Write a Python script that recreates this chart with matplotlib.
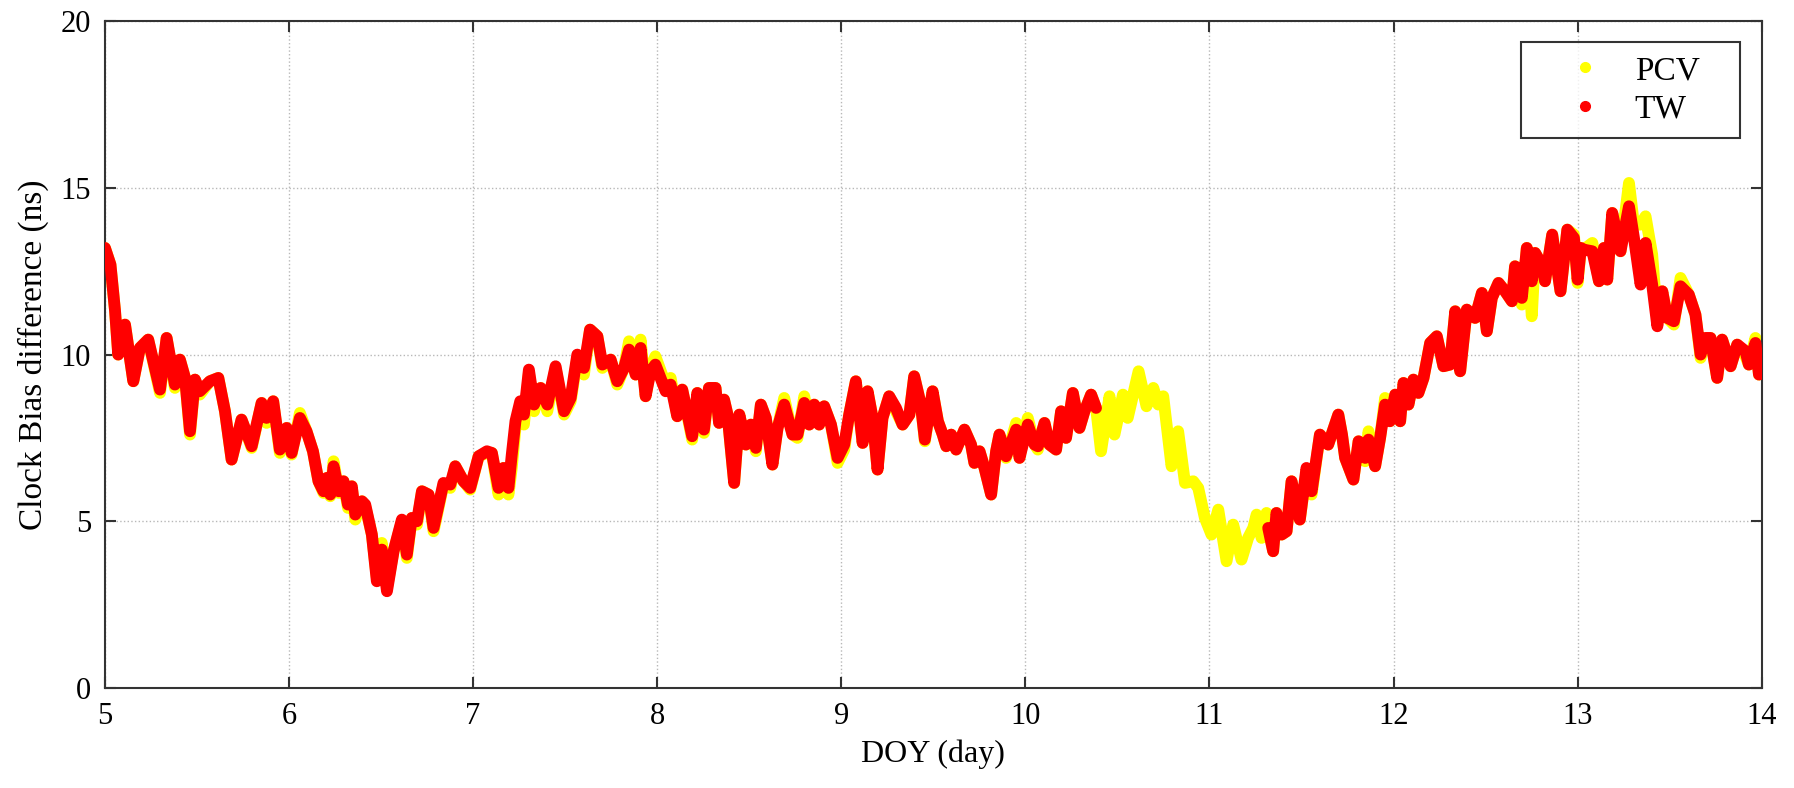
import numpy as np
import matplotlib
matplotlib.use("Agg")
import matplotlib.pyplot as plt
from matplotlib.lines import Line2D

# TW solution (red), gap between DOY 10.4 and 11.3
tw_day = [
    5.000, 5.030, 5.055, 5.072, 5.109, 5.154, 5.190, 5.235, 5.299, 5.335,
    5.380, 5.407, 5.435, 5.462, 5.489, 5.515, 5.570, 5.616, 5.652, 5.688,
    5.742, 5.797, 5.851, 5.878, 5.914, 5.950, 5.987, 6.014, 6.059, 6.095,
    6.130, 6.160, 6.187, 6.205, 6.224, 6.242, 6.270, 6.296, 6.320, 6.341,
    6.360, 6.396, 6.414, 6.450, 6.477, 6.504, 6.532, 6.568, 6.613, 6.640,
    6.667, 6.695, 6.722, 6.758, 6.785, 6.839, 6.876, 6.903, 6.948, 6.984,
    7.030, 7.075, 7.102, 7.138, 7.165, 7.192, 7.210, 7.230, 7.256, 7.276,
    7.303, 7.331, 7.367, 7.403, 7.448, 7.494, 7.530, 7.566, 7.602, 7.635,
    7.675, 7.702, 7.747, 7.783, 7.820, 7.847, 7.883, 7.910, 7.937, 7.964,
    7.990, 8.046, 8.073, 8.109, 8.136, 8.190, 8.218, 8.254, 8.281, 8.317,
    8.336, 8.363, 8.382, 8.418, 8.446, 8.482, 8.509, 8.536, 8.563, 8.590,
    8.626, 8.654, 8.690, 8.735, 8.762, 8.799, 8.826, 8.853, 8.880, 8.907,
    8.944, 8.980, 9.016, 9.043, 9.079, 9.116, 9.143, 9.170, 9.197, 9.224,
    9.260, 9.297, 9.333, 9.370, 9.396, 9.432, 9.454, 9.496, 9.525, 9.551,
    9.570, 9.597, 9.624, 9.669, 9.705, 9.723, 9.751, 9.778, 9.814, 9.841,
    9.859, 9.895, 9.950, 9.968, 10.013, 10.050, 10.068, 10.104, 10.131, 10.167,
    10.194, 10.221, 10.258, 10.294, 10.321, 10.357, 10.384,
    11.319, 11.346, 11.364, 11.392, 11.419, 11.446, 11.491, 11.527, 11.555, 11.600,
    11.645, 11.700, 11.720, 11.737, 11.782, 11.810, 11.846, 11.864, 11.900, 11.927,
    11.954, 11.980, 12.009, 12.036, 12.054, 12.081, 12.108, 12.135, 12.163, 12.199,
    12.235, 12.271, 12.307, 12.335, 12.362, 12.398, 12.443, 12.480, 12.507, 12.534,
    12.570, 12.606, 12.643, 12.660, 12.697, 12.724, 12.751, 12.769, 12.805, 12.823,
    12.862, 12.907, 12.944, 12.980, 13.000, 13.018, 13.033, 13.080, 13.116, 13.143,
    13.161, 13.188, 13.233, 13.279, 13.306, 13.342, 13.369, 13.405, 13.433, 13.460,
    13.487, 13.523, 13.559, 13.604, 13.640, 13.668, 13.695, 13.722, 13.758, 13.785,
    13.831, 13.867, 13.912, 13.930, 13.966, 13.985, 14.000,
]
tw_ns = [
    13.2, 12.7, 11.3, 10.0, 10.9, 9.2, 10.2, 10.45, 8.95, 10.5,
    9.1, 9.85, 9.3, 7.7, 9.25, 8.9, 9.2, 9.3, 8.3, 6.85,
    8.05, 7.25, 8.55, 8.1, 8.6, 7.15, 7.8, 7.05, 8.1, 7.7,
    7.1, 6.2, 5.9, 6.3, 5.8, 6.65, 5.9, 6.2, 5.5, 6.05,
    5.2, 5.6, 5.5, 4.6, 3.2, 4.15, 2.9, 4.1, 5.05, 4.0,
    5.1, 5.0, 5.9, 5.8, 4.8, 6.15, 6.1, 6.65, 6.2, 6.0,
    6.95, 7.1, 7.05, 6.0, 6.6, 6.0, 7.0, 8.0, 8.6, 8.2,
    9.55, 8.5, 9.0, 8.5, 9.65, 8.3, 8.7, 10.0, 9.6, 10.75,
    10.55, 9.7, 9.85, 9.2, 9.6, 10.15, 9.4, 10.2, 8.75, 9.5,
    9.7, 8.9, 9.1, 8.15, 8.95, 7.55, 8.85, 7.75, 9.0, 9.0,
    7.95, 8.65, 8.2, 6.15, 8.2, 7.3, 7.9, 7.2, 8.5, 8.1,
    6.7, 7.8, 8.5, 7.6, 7.6, 8.55, 7.9, 8.5, 7.9, 8.45,
    7.9, 6.9, 7.3, 8.2, 9.2, 7.35, 8.9, 8.1, 6.55, 8.1,
    8.75, 8.4, 7.9, 8.2, 9.35, 8.5, 7.45, 8.9, 8.0, 7.6,
    7.25, 7.6, 7.15, 7.75, 7.3, 6.75, 7.1, 6.6, 5.8, 7.1,
    7.6, 6.95, 7.75, 6.9, 7.9, 7.3, 7.25, 7.95, 7.3, 7.15,
    8.3, 7.5, 8.85, 7.8, 8.3, 8.8, 8.4,
    4.8, 4.1, 5.25, 4.6, 4.7, 6.2, 5.05, 6.6, 5.9, 7.6,
    7.3, 8.2, 7.6, 6.9, 6.25, 7.4, 6.9, 7.45, 6.65, 7.5,
    8.5, 8.0, 8.8, 8.0, 9.15, 8.5, 9.25, 8.85, 9.3, 10.35,
    10.55, 9.65, 9.7, 11.3, 9.5, 11.35, 11.1, 11.85, 10.7, 11.7,
    12.15, 11.9, 11.6, 12.65, 11.7, 13.2, 12.2, 13.05, 12.7, 12.2,
    13.6, 11.9, 13.75, 13.5, 12.25, 13.2, 13.15, 13.1, 12.2, 13.2,
    12.25, 14.25, 13.1, 14.45, 13.5, 12.1, 13.35, 12.1, 10.85, 11.9,
    11.1, 11.0, 12.05, 11.8, 11.2, 10.0, 10.5, 10.5, 9.3, 10.45,
    9.65, 10.3, 10.1, 9.7, 10.35, 9.4, 9.7,
]

# PCV solution (yellow), continuous
pcv_day = [
    5.000, 5.030, 5.055, 5.072, 5.109, 5.154, 5.190, 5.235, 5.299, 5.335,
    5.380, 5.407, 5.435, 5.462, 5.489, 5.515, 5.570, 5.616, 5.652, 5.688,
    5.742, 5.797, 5.851, 5.878, 5.914, 5.950, 5.987, 6.014, 6.059, 6.095,
    6.130, 6.160, 6.187, 6.205, 6.224, 6.242, 6.270, 6.296, 6.320, 6.341,
    6.360, 6.396, 6.414, 6.450, 6.477, 6.504, 6.532, 6.568, 6.613, 6.640,
    6.667, 6.695, 6.722, 6.758, 6.785, 6.839, 6.876, 6.903, 6.948, 6.984,
    7.030, 7.075, 7.102, 7.138, 7.165, 7.192, 7.210, 7.230, 7.256, 7.276,
    7.303, 7.331, 7.367, 7.403, 7.448, 7.494, 7.530, 7.566, 7.602, 7.635,
    7.675, 7.702, 7.747, 7.783, 7.820, 7.847, 7.883, 7.910, 7.937, 7.964,
    7.990, 8.046, 8.073, 8.109, 8.136, 8.190, 8.218, 8.254, 8.281, 8.317,
    8.336, 8.363, 8.382, 8.418, 8.446, 8.482, 8.509, 8.536, 8.563, 8.590,
    8.626, 8.654, 8.690, 8.735, 8.762, 8.799, 8.826, 8.853, 8.880, 8.907,
    8.944, 8.980, 9.016, 9.043, 9.079, 9.116, 9.143, 9.170, 9.197, 9.224,
    9.260, 9.297, 9.333, 9.370, 9.396, 9.432, 9.454, 9.496, 9.525, 9.551,
    9.570, 9.597, 9.624, 9.669, 9.705, 9.723, 9.751, 9.778, 9.814, 9.841,
    9.859, 9.895, 9.950, 9.968, 10.013, 10.050, 10.068, 10.104, 10.131, 10.167,
    10.194, 10.221, 10.258, 10.294, 10.321, 10.357, 10.384,
    10.411, 10.457, 10.484, 10.530, 10.556, 10.615, 10.658, 10.695, 10.722, 10.749,
    10.794, 10.830, 10.867, 10.912, 10.939, 10.975, 11.011, 11.048, 11.093, 11.129,
    11.174, 11.210, 11.238, 11.256, 11.283, 11.310,
    11.319, 11.346, 11.364, 11.392, 11.419, 11.446, 11.491, 11.527, 11.555, 11.600,
    11.645, 11.700, 11.720, 11.737, 11.782, 11.810, 11.846, 11.864, 11.900, 11.927,
    11.954, 11.980, 12.009, 12.036, 12.054, 12.081, 12.108, 12.135, 12.163, 12.199,
    12.235, 12.271, 12.307, 12.335, 12.362, 12.398, 12.443, 12.480, 12.507, 12.534,
    12.570, 12.606, 12.643, 12.660, 12.697, 12.724, 12.751, 12.769, 12.805, 12.823,
    12.862, 12.907, 12.944, 12.980, 13.000, 13.018, 13.033, 13.080, 13.116, 13.143,
    13.161, 13.188, 13.233, 13.279, 13.306, 13.342, 13.369, 13.405, 13.433, 13.460,
    13.487, 13.523, 13.559, 13.604, 13.640, 13.668, 13.695, 13.722, 13.758, 13.785,
    13.831, 13.867, 13.912, 13.930, 13.966, 13.985, 14.000,
]
pcv_ns = [
    13.2, 12.7, 11.3, 10.0, 10.9, 9.2, 10.2, 10.45, 8.85, 10.5,
    9.0, 9.85, 9.3, 7.6, 9.25, 8.8, 9.2, 9.3, 8.3, 6.85,
    8.05, 7.2, 8.55, 7.95, 8.6, 7.05, 7.8, 7.0, 8.25, 7.7,
    7.1, 6.2, 5.85, 6.3, 5.75, 6.8, 5.85, 6.2, 5.4, 6.05,
    5.05, 5.6, 5.45, 4.6, 3.3, 4.35, 3.0, 4.1, 5.0, 3.9,
    5.1, 4.9, 5.9, 5.8, 4.7, 6.1, 6.0, 6.65, 6.2, 5.95,
    6.95, 7.05, 7.05, 5.8, 6.6, 5.8, 6.6, 7.8, 8.4, 7.9,
    9.45, 8.3, 9.0, 8.3, 9.6, 8.2, 8.6, 9.9, 9.4, 10.75,
    10.55, 9.6, 9.85, 9.1, 9.6, 10.4, 9.4, 10.45, 8.75, 9.6,
    9.95, 9.1, 9.3, 8.15, 8.95, 7.45, 8.85, 7.65, 9.0, 9.0,
    7.95, 8.65, 8.2, 6.15, 8.2, 7.3, 7.9, 7.1, 8.5, 8.1,
    6.7, 7.8, 8.7, 7.6, 7.5, 8.75, 7.9, 8.5, 7.9, 8.45,
    7.9, 6.75, 7.15, 8.2, 9.2, 7.35, 8.9, 8.1, 6.55, 8.1,
    8.75, 8.3, 7.9, 8.2, 9.35, 8.5, 7.4, 8.9, 8.0, 7.6,
    7.25, 7.6, 7.15, 7.75, 7.3, 6.75, 7.1, 6.6, 5.8, 7.1,
    7.6, 6.9, 7.95, 6.9, 8.1, 7.3, 7.15, 7.95, 7.3, 7.15,
    8.3, 7.5, 8.85, 7.8, 8.3, 8.8, 8.4,
    7.1, 8.75, 7.6, 8.8, 8.1, 9.5, 8.45, 9.0, 8.5, 8.75,
    6.65, 7.7, 6.15, 6.2, 6.0, 5.1, 4.6, 5.35, 3.8, 4.9,
    3.85, 4.5, 4.8, 5.2, 4.5, 5.25,
    4.8, 4.1, 5.25, 4.6, 4.7, 6.2, 5.05, 6.5, 5.8, 7.6,
    7.3, 8.2, 7.6, 6.9, 6.25, 7.4, 6.8, 7.7, 6.65, 7.5,
    8.7, 8.0, 8.8, 8.0, 9.15, 8.5, 9.25, 8.85, 9.3, 10.35,
    10.55, 9.65, 9.7, 11.3, 9.5, 11.35, 11.1, 11.85, 10.7, 11.7,
    12.15, 11.9, 11.6, 12.65, 11.5, 13.2, 11.15, 13.05, 12.7, 12.2,
    13.6, 11.9, 13.75, 13.6, 12.15, 13.2, 13.15, 13.35, 12.2, 13.2,
    12.25, 14.25, 13.1, 15.15, 13.9, 13.9, 14.15, 13.0, 11.0, 11.9,
    11.1, 10.9, 12.3, 11.8, 11.2, 9.9, 10.5, 10.5, 9.3, 10.45,
    9.65, 10.3, 9.95, 9.7, 10.5, 9.4, 9.7,
]

x_ticks = [5, 6, 7, 8, 9, 10, 11, 12, 13, 14]
y_ticks = [0, 5, 10, 15, 20]

plt.rcParams['font.family'] = ['Liberation Serif', 'DejaVu Serif']

fig = plt.figure(figsize=(17.94, 7.88), dpi=100)
ax = fig.add_axes([0.0585, 0.127, 0.9235, 0.846])

line_kw = dict(lw=8.5, solid_joinstyle='round', solid_capstyle='round')
ax.plot(pcv_day, pcv_ns, color='#ffff00', zorder=2, **line_kw)
# TW has no solution between DOY 10.4 and 11.3
tw_day = np.array(tw_day)
tw_ns = np.array(tw_ns)
cut = np.searchsorted(tw_day, 11.0)
ax.plot(tw_day[:cut], tw_ns[:cut], color='#ff0000', zorder=3, **line_kw)
ax.plot(tw_day[cut:], tw_ns[cut:], color='#ff0000', zorder=3, **line_kw)

ax.set_xlim(5, 14)
ax.set_ylim(0, 20)
ax.set_xticks(x_ticks)
ax.set_yticks(y_ticks)
ax.grid(True, linestyle=':', color='#b8b8b8', linewidth=1.0)
ax.tick_params(direction='in', length=8, width=1.5, labelsize=22,
               top=True, right=True, pad=10, colors='#333333', labelcolor='black')
for s in ax.spines.values():
    s.set_linewidth(1.5)
    s.set_color('#333333')

ax.set_xlabel('DOY (day)', fontsize=23, labelpad=6)
ax.set_ylabel('Clock Bias difference (ns)', fontsize=24, labelpad=8)

handles = [
    Line2D([], [], color='#ffff00', marker='o', markersize=7, linestyle='None'),
    Line2D([], [], color='#ff0000', marker='o', markersize=7, linestyle='None'),
]
leg = ax.legend(handles, ['PCV', 'TW'], loc='upper left',
                bbox_to_anchor=(0.855, 0.82, 0.132, 0.1485), mode='expand',
                borderaxespad=0, fontsize=24, frameon=True, fancybox=False,
                handletextpad=0.0, borderpad=0.4, labelspacing=0.25,
                handlelength=3.0)
leg.get_frame().set_edgecolor('black')
leg.get_frame().set_linewidth(1.5)

fig.savefig('out.png', dpi=100)
